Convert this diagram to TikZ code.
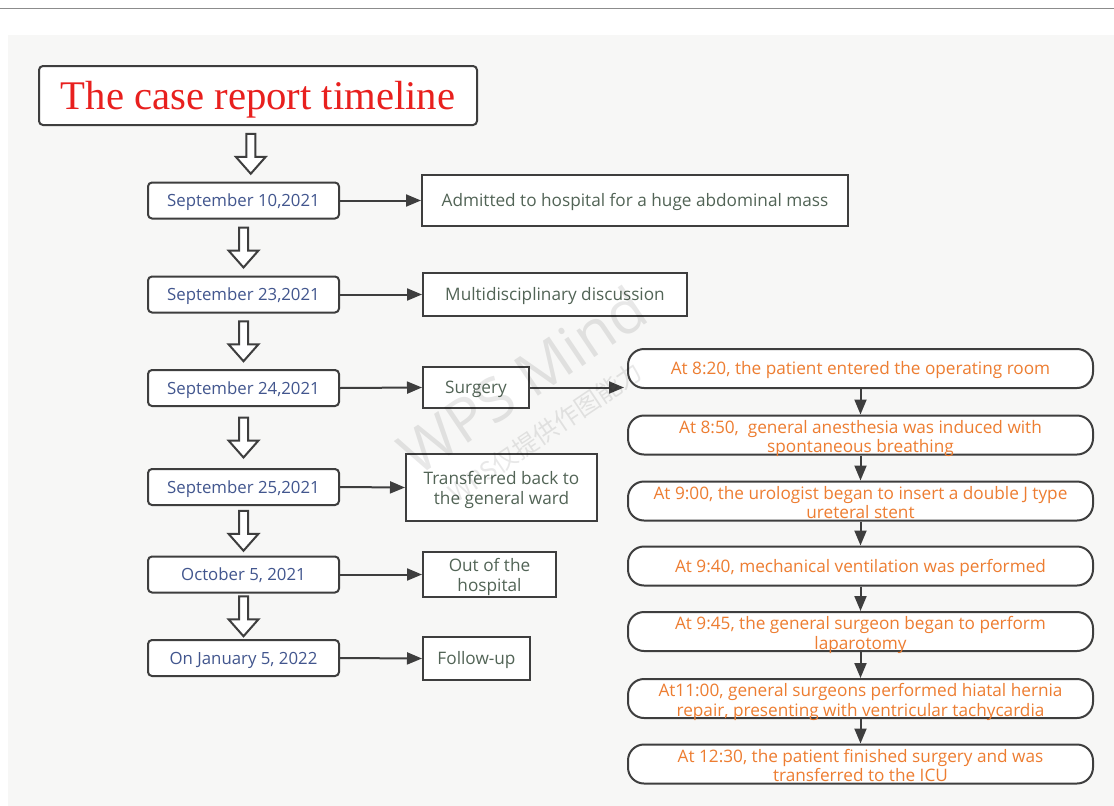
\documentclass[tikz,border=0pt]{standalone}
\usepackage{fontspec}
\setmainfont{Liberation Serif}
\setsansfont{Open Sans}
\newfontfamily\cjkfont{Noto Sans CJK SC}
\usepackage{xcolor}
\usetikzlibrary{arrows.meta, calc}

\definecolor{linegray}{RGB}{62,62,62}
\definecolor{bggray}{RGB}{247,247,246}
\definecolor{rulegray}{RGB}{140,140,140}
\definecolor{titlered}{RGB}{232,32,30}
\definecolor{datecol}{RGB}{66,86,142}
\definecolor{eventcol}{RGB}{82,100,86}
\definecolor{stepcol}{RGB}{237,125,49}

\begin{document}
\begin{tikzpicture}[x=1pt, y=-1pt,
    datebox/.style={draw=linegray, line width=2pt, fill=white, rounded corners=4pt,
        minimum width=191pt, minimum height=36pt, inner sep=0pt, text height=12pt, text depth=0pt,
        font=\sffamily\fontsize{16.8}{20}\selectfont, text=datecol},
    eventbox/.style={draw=linegray, line width=2pt, fill=white, inner sep=0pt, align=center,
        text height=33pt, text depth=0pt, font=\sffamily\fontsize{17.2}{20}\selectfont, text=eventcol},
    oneline/.style={text height=12pt, text depth=0pt},
    stepnode/.style={draw=linegray, line width=2pt, fill=white, rounded corners=16pt,
        minimum width=465pt, minimum height=39pt, inner sep=0pt, align=center,
        text height=35pt, text depth=0pt, font=\sffamily\fontsize{17.2}{19.5}\selectfont, text=stepcol},
    link/.style={draw=linegray, line width=2pt, -{Triangle[length=15pt,width=12pt]}},
    hollow/.pic={\draw[linegray, line width=2pt, fill=white, line join=miter]
        (-4.5,-20) -- (4.5,-20) -- (4.5,3) -- (15,3) -- (0,20) -- (-15,3) -- (-4.5,3) -- cycle;}
    ]
    \useasboundingbox (0,0) rectangle (1114,806);
    \fill[bggray] (8,35) rectangle (1114,806);
    \draw[rulegray, line width=1.5pt] (0,8.5) -- (1114,8.5);

    % title
    \node[draw=linegray, line width=2pt, fill=white, rounded corners=4pt, minimum width=438pt,
        minimum height=59pt, inner sep=0pt, text height=27pt, text depth=0pt, text=titlered,
        font=\fontsize{40.7}{44}\selectfont] (title) at (258, 95.5) {The case report timeline};

    % dates
    \node[datebox] (D1) at (243.5, 200.5) {September 10,2021};
    \node[datebox] (D2) at (243.5, 294.5) {September 23,2021};
    \node[datebox] (D3) at (243.5, 388) {September 24,2021};
    \node[datebox] (D4) at (243.5, 487) {September 25,2021};
    \node[datebox] (D5) at (243.5, 574.5) {October 5, 2021};
    \node[datebox] (D6) at (243.5, 658) {On January 5, 2022};

    % events
    \node[eventbox, oneline, minimum width=426pt, minimum height=51pt] (E1) at (635, 200.5) {Admitted to hospital for a huge abdominal mass};
    \node[eventbox, oneline, minimum width=264pt, minimum height=43pt] (E2) at (555, 294.5) {Multidisciplinary discussion};
    \node[eventbox, oneline, minimum width=106pt, minimum height=41pt] (E3) at (476, 387.5) {Surgery};
    \node[eventbox, minimum width=191pt, minimum height=67pt] (E4) at (501.5, 487.5) {Transferred back to\\the general ward};
    \node[eventbox, minimum width=133pt, minimum height=45pt] (E5) at (489.5, 574.5) {Out of the\\hospital};
    \node[eventbox, oneline, minimum width=107pt, minimum height=43pt] (E6) at (476.5, 658.5) {Follow-up};

    % surgery steps
    \node[stepnode, oneline] (R1) at (860.5, 368.5) {At 8:20, the patient entered the operating room};
    \node[stepnode] (R2) at (860.5, 435) {At 8:50,\ \ general anesthesia was induced with\\spontaneous breathing};
    \node[stepnode] (R3) at (860.5, 501) {At 9:00, the urologist began to insert a double J type\\ureteral stent};
    \node[stepnode, oneline] (R4) at (860.5, 566) {At 9:40, mechanical ventilation was performed};
    \node[stepnode] (R5) at (860.5, 631.5) {At 9:45, the general surgeon began to perform\\laparotomy};
    \node[stepnode] (R6) at (860.5, 698.5) {At11:00, general surgeons performed hiatal hernia\\repair, presenting with ventricular tachycardia};
    \node[stepnode] (R7) at (860.5, 764) {At 12:30, the patient finished surgery and was\\transferred to the ICU};

    \foreach \a/\b in {title/D1, D1/D2, D2/D3, D3/D4, D4/D5, D5/D6}
        \pic at ($(\a.south)!0.5!(\b.north)$) {hollow};
    \foreach \i in {1,...,6}
        \draw[link] (D\i.east) -- (E\i.west);
    \draw[link] (E3.east) -- ([xshift=-3pt]E3.east -| R1.west);
    \foreach \i [count=\j from 2] in {1,...,6}
        \draw[link] (R\i.south) -- (R\j.north);

    % watermark
    \node[rotate=34, text=black, opacity=0.09, font=\sffamily\fontsize{60}{60}\selectfont] (mark) at (522, 380) {WPS Mind};
    \node[rotate=34, text=black, opacity=0.09, font=\cjkfont\fontsize{25}{25}\selectfont] (marksub) at (545, 432) {WPS仅提供作图能力};
\end{tikzpicture}
\end{document}
